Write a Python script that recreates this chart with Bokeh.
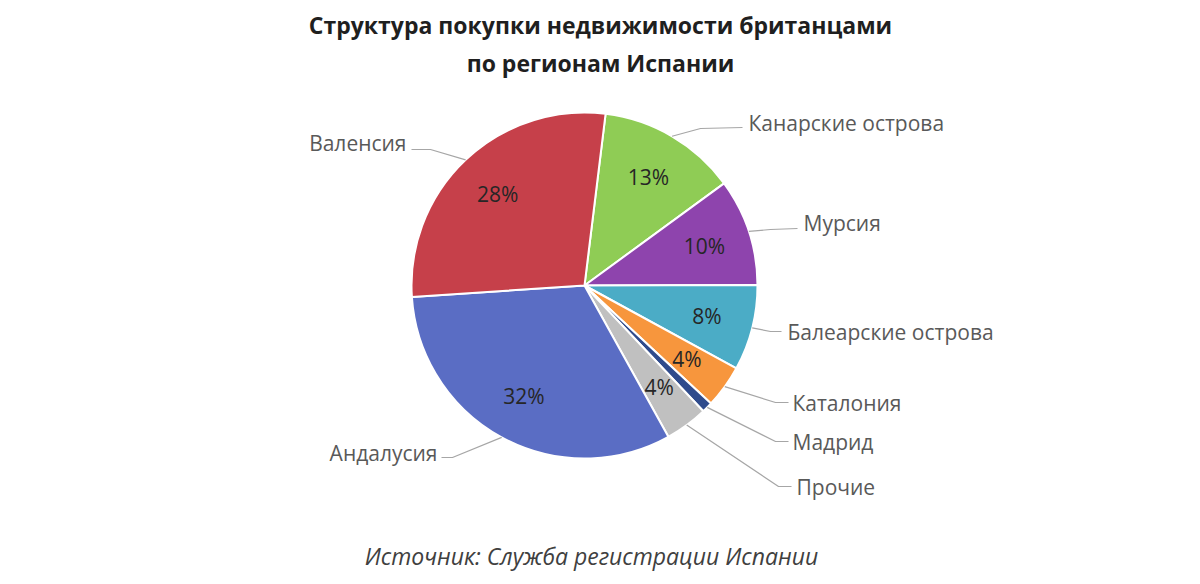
import math
from bokeh.plotting import figure
from bokeh.models import Range1d, Label
from bokeh.embed import file_html
from bokeh.resources import INLINE

# ---------------- data ----------------
regions = ["Канарские острова", "Мурсия", "Балеарские острова", "Каталония",
           "Мадрид", "Прочие", "Андалусия", "Валенсия"]
shares = [13, 10, 8, 4, 1, 4, 32, 28]
pct_labels = ["13%", "10%", "8%", "4%", "", "4%", "32%", "28%"]
colors = ["#8FCC55", "#8E44AD", "#4BACC6", "#F7963D", "#2F4B8C",
          "#C0C0C0", "#5A6DC4", "#C6404A"]
title_lines = ["Структура покупки недвижимости британцами", "по регионам Испании"]
source_text = "Источник: Служба регистрации Испании"

# ---------------- layout ----------------
W, H = 1184, 576


def P(X, Y):
    """screenshot pixel -> data coords"""
    return X, H - Y


CX, CY = P(584, 285)
R = 173
START = 7.0  # compass degrees, clockwise from 12 o'clock

# label layout (screenshot px): elbow, end of leader, text anchor, align
label_layout = {
    "Канарские острова": ((700, 128), (742, 127), (748, 122), "left"),
    "Мурсия": ((770, 229), (797, 228), (803, 222), "left"),
    "Балеарские острова": ((770, 331), (781, 331), (787, 331), "left"),
    "Каталония": ((775, 402), (788, 402), (792, 402), "left"),
    "Мадрид": ((775, 441), (788, 441), (792, 441), "left"),
    "Прочие": ((778, 486), (791, 486), (796, 486), "left"),
    "Андалусия": ((452, 457), (441, 457), (437, 452), "right"),
    "Валенсия": ((430, 149), (411, 149), (406, 142), "right"),
}

p = figure(width=W, height=H, output_backend="svg", toolbar_location=None,
           x_range=Range1d(0, W), y_range=Range1d(0, H), min_border=0,
           outline_line_color=None)
p.axis.visible = False
p.grid.visible = False
p.background_fill_color = "white"

total = float(sum(shares))
acc = START
starts, ends, mids = [], [], []
for s in shares:
    a0 = acc
    a1 = acc + 360.0 * s / total
    starts.append(math.radians(90 - a0))
    ends.append(math.radians(90 - a1))
    mids.append((a0 + a1) / 2)
    acc = a1

p.wedge(x=CX, y=CY, radius=R, start_angle=starts, end_angle=ends,
        direction="clock", fill_color=colors, line_color="white", line_width=2)

# percent labels
for lab, m in zip(pct_labels, mids):
    if not lab:
        continue
    rr = 0.73 * R
    x = CX + rr * math.sin(math.radians(m))
    y = CY + rr * math.cos(math.radians(m))
    p.add_layout(Label(x=x, y=y, text=lab, text_align="center", text_baseline="middle",
                       text_font="Open Sans", text_font_size="21px", text_color="#262626"))

# leaders + region labels
xs, ys = [], []
for reg, m in zip(regions, mids):
    elbow, end, anchor, align = label_layout[reg]
    ex = CX + R * math.sin(math.radians(m))
    ey = CY + R * math.cos(math.radians(m))
    e1 = P(*elbow)
    e2 = P(*end)
    xs.append([ex, e1[0], e2[0]])
    ys.append([ey, e1[1], e2[1]])
    ax, ay = P(*anchor)
    p.add_layout(Label(x=ax, y=ay, text=reg, text_align=align, text_baseline="middle",
                       text_font="Open Sans", text_font_size="21px", text_color="#595959"))
p.multi_line(xs=xs, ys=ys, line_color="#A6A6A6", line_width=1.2)

# title
for i, t in enumerate(title_lines):
    tx, ty = P(600, 24 + 38 * i)
    p.add_layout(Label(x=tx, y=ty, text=t, text_align="center", text_baseline="middle",
                       text_font="Open Sans", text_font_style="bold",
                       text_font_size="23px", text_color="#1F1F1F"))

sx, sy = P(591, 555)
p.add_layout(Label(x=sx, y=sy, text=source_text, text_align="center", text_baseline="middle",
                   text_font="Open Sans", text_font_style="italic",
                   text_font_size="23px", text_color="#404040"))

open("out.html", "w").write(file_html(p, INLINE))
